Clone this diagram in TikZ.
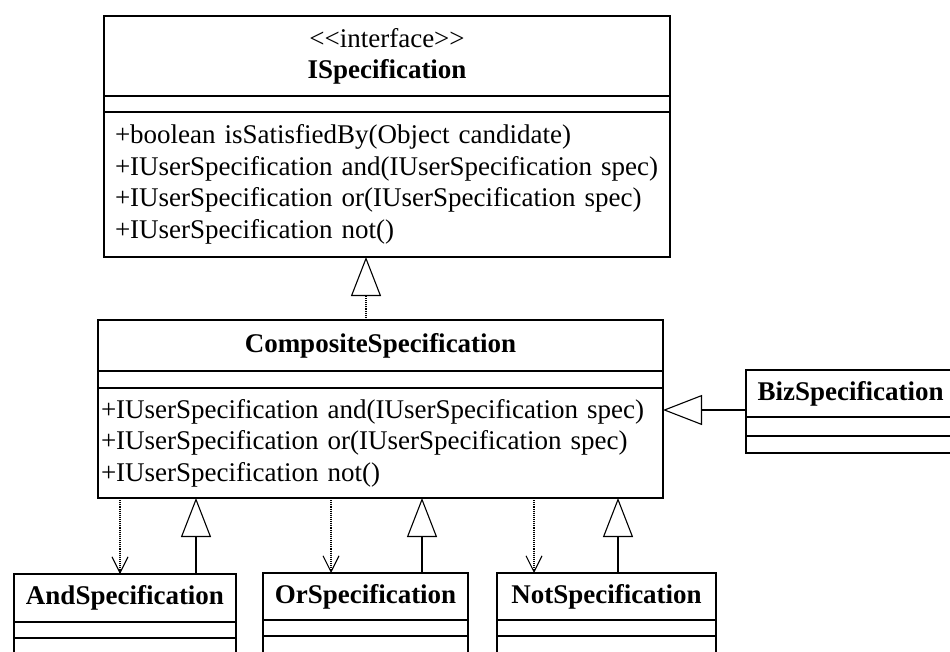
\documentclass[tikz,border=0pt]{standalone}
\usepackage{fontspec}
\setmainfont{Liberation Serif}
\usetikzlibrary{arrows.meta,positioning}

\begin{document}
\begin{tikzpicture}
  [x=1pt, y=-1pt,
   every node/.style={font=\fontsize{27}{30}\selectfont},
   part/.style={draw, line width=1.1pt, outer sep=0pt, inner sep=0pt, anchor=north},
   namepart/.style={part, align=center, font=\fontsize{27}{30}\selectfont\bfseries},
   opspart/.style={part, align=left, font=\fontsize{27}{31.5}\selectfont},
   inherit/.style={line width=1.1pt, -{Triangle[open, length=39pt, width=30pt]}},
   realize/.style={inherit, densely dotted},
   depline/.style={line width=1.1pt, densely dotted, -{Straight Barb[length=16pt, width=16pt]}}]

  \useasboundingbox (0,0) rectangle (950,652);
  \clip (0,0) rectangle (950,652);

  % interface
  \node[namepart, anchor=north west, minimum width=566pt, minimum height=80pt, font=\fontsize{27}{31}\selectfont] (isName) at (104,16)
    {<{}<interface>{}>\\\textbf{ISpecification}};
  \node[part, below=0pt of isName, minimum width=566pt, minimum height=16pt] (isAttr) {};
  \node[opspart, below=0pt of isAttr, inner xsep=11pt, text width=544pt, minimum height=145pt] (isOps)
    {+boolean isSatisfiedBy(Object candidate)\\
     +IUserSpecification and(IUserSpecification spec)\\
     +IUserSpecification or(IUserSpecification spec)\\
     +IUserSpecification not()};

  % composite
  \node[namepart, anchor=north west, minimum width=565pt, minimum height=51pt] (csName) at (98,320) {CompositeSpecification};
  \node[part, below=0pt of csName, minimum width=565pt, minimum height=17pt] (csAttr) {};
  \node[opspart, below=0pt of csAttr, inner xsep=3pt, text width=559pt, minimum height=110pt] (csOps)
    {+IUserSpecification and(IUserSpecification spec)\\
     +IUserSpecification or(IUserSpecification spec)\\
     +IUserSpecification not()};

  % business rule
  \node[namepart, anchor=north west, minimum width=209pt, minimum height=47pt] (bizName) at (746,370) {BizSpecification};
  \node[part, below=0pt of bizName, minimum width=209pt, minimum height=19pt] (bizAttr) {};
  \node[part, below=0pt of bizAttr, minimum width=209pt, minimum height=17pt] (bizOps) {};

  % concrete specs
  \node[namepart, anchor=north west, minimum width=222pt, minimum height=48pt] (andName) at (14,574) {AndSpecification};
  \node[part, below=0pt of andName, minimum width=222pt, minimum height=16pt] (andAttr) {};
  \node[part, below=0pt of andAttr, minimum width=222pt, minimum height=40pt] (andOps) {};

  \node[namepart, anchor=north west, minimum width=205pt, minimum height=47pt] (orName) at (263,573) {OrSpecification};
  \node[part, below=0pt of orName, minimum width=205pt, minimum height=16pt] (orAttr) {};
  \node[part, below=0pt of orAttr, minimum width=205pt, minimum height=40pt] (orOps) {};

  \node[namepart, anchor=north west, minimum width=219pt, minimum height=47pt] (notName) at (497,573) {NotSpecification};
  \node[part, below=0pt of notName, minimum width=219pt, minimum height=16pt] (notAttr) {};
  \node[part, below=0pt of notAttr, minimum width=219pt, minimum height=40pt] (notOps) {};

  \coordinate (isTip) at ([xshift=-21pt]isOps.south);
  \draw[realize] (csName.north -| isTip) -- (isTip);

  \coordinate (bizIn) at ([yshift=7pt]bizName.south west);
  \draw[inherit] (bizIn) -- (bizIn -| csOps.east);

  \foreach \cls/\dx/\tx in {and/-5/71, or/-34.5/56.5, not/-72.5/11.5} {
    \coordinate (\cls Dep) at ([xshift=\dx pt]\cls Name.north);
    \coordinate (\cls Gen) at ([xshift=\tx pt]\cls Name.north);
    \draw[depline] (\cls Dep |- csOps.south) -- (\cls Dep);
    \draw[inherit] (\cls Gen) -- (\cls Gen |- csOps.south);
  }
\end{tikzpicture}
\end{document}
